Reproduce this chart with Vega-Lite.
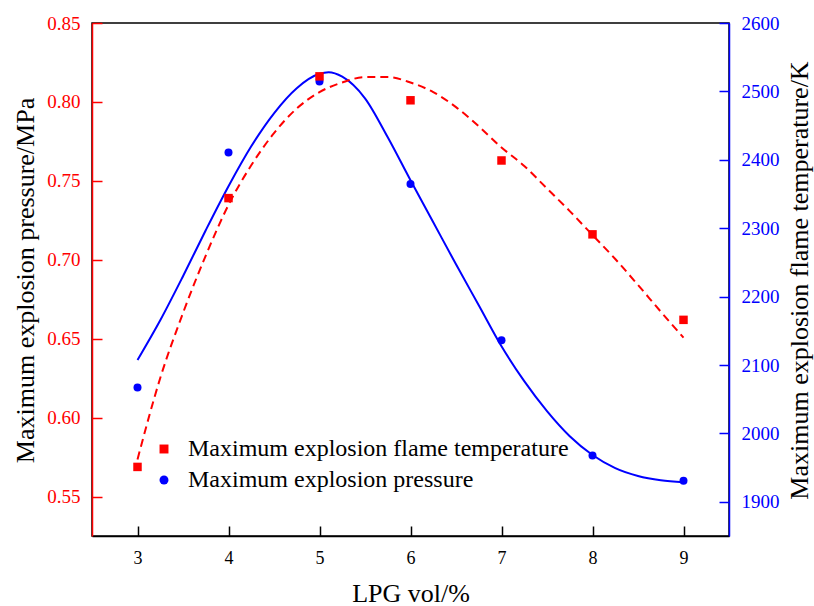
{
  "$schema": "https://vega.github.io/schema/vega-lite/v6.json",
  "width": 637,
  "height": 513,
  "autosize": {"type": "none"},
  "padding": {"left": 92, "top": 23, "right": 85, "bottom": 70},
  "background": "white",
  "config": {
    "font": "Liberation Serif",
    "view": {"stroke": "black", "strokeWidth": 1.5},
    "axis": {
      "grid": false,
      "labelFont": "Liberation Serif",
      "titleFont": "Liberation Serif",
      "labelFontSize": 19,
      "titleFontSize": 26,
      "titleFontWeight": "normal",
      "titleColor": "black",
      "tickSize": -10,
      "labelPadding": 22,
      "domainWidth": 1.5,
      "tickWidth": 1.5
    }
  },
  "datasets": {
    "pressure_pts": [
      {"lpg": 3, "pressure": 0.619, "series": "Maximum explosion pressure"},
      {"lpg": 4, "pressure": 0.768, "series": "Maximum explosion pressure"},
      {"lpg": 5, "pressure": 0.813, "series": "Maximum explosion pressure"},
      {"lpg": 6, "pressure": 0.748, "series": "Maximum explosion pressure"},
      {"lpg": 7, "pressure": 0.649, "series": "Maximum explosion pressure"},
      {"lpg": 8, "pressure": 0.576, "series": "Maximum explosion pressure"},
      {"lpg": 9, "pressure": 0.560, "series": "Maximum explosion pressure"}
    ],
    "temp_pts": [
      {"lpg": 3, "temperature": 1951, "series": "Maximum explosion flame temperature"},
      {"lpg": 4, "temperature": 2344, "series": "Maximum explosion flame temperature"},
      {"lpg": 5, "temperature": 2522, "series": "Maximum explosion flame temperature"},
      {"lpg": 6, "temperature": 2487, "series": "Maximum explosion flame temperature"},
      {"lpg": 7, "temperature": 2399, "series": "Maximum explosion flame temperature"},
      {"lpg": 8, "temperature": 2291, "series": "Maximum explosion flame temperature"},
      {"lpg": 9, "temperature": 2166, "series": "Maximum explosion flame temperature"}
    ],
    "pressure_fit": [
      {"lpg": 3.0, "pressure": 0.6365},
      {"lpg": 3.25, "pressure": 0.6617},
      {"lpg": 3.5, "pressure": 0.6896},
      {"lpg": 3.75, "pressure": 0.7187},
      {"lpg": 4.0, "pressure": 0.7466},
      {"lpg": 4.25, "pressure": 0.7719},
      {"lpg": 4.5, "pressure": 0.7928},
      {"lpg": 4.75, "pressure": 0.8087},
      {"lpg": 5.0, "pressure": 0.8178},
      {"lpg": 5.1, "pressure": 0.8188},
      {"lpg": 5.25, "pressure": 0.8160},
      {"lpg": 5.5, "pressure": 0.8023},
      {"lpg": 5.75, "pressure": 0.7776},
      {"lpg": 6.0, "pressure": 0.7504},
      {"lpg": 6.25, "pressure": 0.7238},
      {"lpg": 6.5, "pressure": 0.6971},
      {"lpg": 6.75, "pressure": 0.6712},
      {"lpg": 7.0, "pressure": 0.6452},
      {"lpg": 7.25, "pressure": 0.6231},
      {"lpg": 7.5, "pressure": 0.6041},
      {"lpg": 7.75, "pressure": 0.5882},
      {"lpg": 8.0, "pressure": 0.5763},
      {"lpg": 8.25, "pressure": 0.5680},
      {"lpg": 8.5, "pressure": 0.5630},
      {"lpg": 8.75, "pressure": 0.5603},
      {"lpg": 9.0, "pressure": 0.5591}
    ],
    "temp_fit": [
      {"lpg": 3.0, "temperature": 1962},
      {"lpg": 3.25, "temperature": 2081},
      {"lpg": 3.5, "temperature": 2176},
      {"lpg": 3.75, "temperature": 2260},
      {"lpg": 4.0, "temperature": 2334},
      {"lpg": 4.25, "temperature": 2392},
      {"lpg": 4.5, "temperature": 2439},
      {"lpg": 4.75, "temperature": 2475},
      {"lpg": 5.0, "temperature": 2499},
      {"lpg": 5.25, "temperature": 2513},
      {"lpg": 5.5, "temperature": 2521},
      {"lpg": 5.75, "temperature": 2521},
      {"lpg": 6.0, "temperature": 2513},
      {"lpg": 6.25, "temperature": 2499},
      {"lpg": 6.5, "temperature": 2477},
      {"lpg": 6.75, "temperature": 2449},
      {"lpg": 7.0, "temperature": 2418},
      {"lpg": 7.25, "temperature": 2391},
      {"lpg": 7.5, "temperature": 2358},
      {"lpg": 7.75, "temperature": 2325},
      {"lpg": 8.0, "temperature": 2290},
      {"lpg": 8.25, "temperature": 2255},
      {"lpg": 8.5, "temperature": 2217},
      {"lpg": 8.75, "temperature": 2178},
      {"lpg": 9.0, "temperature": 2140}
    ]
  },
  "encoding": {
    "x": {
      "field": "lpg",
      "type": "quantitative",
      "scale": {"domain": [2.5, 9.5], "nice": false, "zero": false},
      "axis": {
        "title": "LPG vol/%",
        "values": [3, 4, 5, 6, 7, 8, 9],
        "labelFont": "Liberation Serif",
        "labelFontSize": 18,
        "labelColor": "black",
        "domainColor": "black",
        "tickColor": "black",
        "labelPadding": 23,
        "titleY": 65,
        "titleBaseline": "alphabetic"
      }
    }
  },
  "layer": [
    {
      "encoding": {
        "y": {
          "field": "pressure",
          "type": "quantitative",
          "scale": {"domain": [0.525, 0.85], "nice": false, "zero": false},
          "axis": {
            "orient": "left",
            "title": "Maximum explosion pressure/MPa",
            "values": [0.55, 0.6, 0.65, 0.7, 0.75, 0.8, 0.85],
            "format": ".2f",
            "labelFont": "Liberation Serif",
            "labelFontSize": 19,
            "labelColor": "#ff0000",
            "domainColor": "red",
            "tickColor": "red",
            "titleAngle": -90,
            "titleX": -59,
            "titleY": 257,
            "titleAlign": "center",
            "titleBaseline": "alphabetic"
          }
        }
      },
      "layer": [
        {
          "data": {"name": "pressure_fit"},
          "mark": {"type": "line", "color": "#0000ff", "strokeWidth": 2, "interpolate": "monotone"}
        },
        {
          "data": {"name": "pressure_pts"},
          "mark": {"type": "point", "filled": true, "opacity": 1, "size": 64},
          "encoding": {
            "color": {
              "field": "series",
              "type": "nominal",
              "scale": {"domain": ["Maximum explosion flame temperature", "Maximum explosion pressure"], "range": ["#ff0000", "#0000ff"]},
              "legend": {"orient": "none", "legendX": 60, "legendY": 414, "title": null, "labelFontSize": 24, "labelFont": "Liberation Serif", "labelColor": "black", "labelLimit": 0, "symbolSize": 80, "labelOffset": 12, "rowPadding": 7, "padding": 0, "symbolOpacity": 1}
            },
            "shape": {
              "field": "series",
              "type": "nominal",
              "scale": {"domain": ["Maximum explosion flame temperature", "Maximum explosion pressure"], "range": ["square", "circle"]},
              "legend": {"orient": "none", "legendX": 60, "legendY": 414, "title": null, "labelFontSize": 24, "labelFont": "Liberation Serif", "labelColor": "black", "labelLimit": 0, "symbolSize": 80, "labelOffset": 12, "rowPadding": 7, "padding": 0, "symbolOpacity": 1}
            }
          }
        }
      ]
    },
    {
      "encoding": {
        "y": {
          "field": "temperature",
          "type": "quantitative",
          "scale": {"domain": [1850, 2600], "nice": false, "zero": false},
          "axis": {
            "orient": "right",
            "title": "Maximum explosion flame temperature/K",
            "values": [1900, 2000, 2100, 2200, 2300, 2400, 2500, 2600],
            "format": "d",
            "labelFont": "Liberation Serif",
            "labelFontSize": 19,
            "labelColor": "#0000ff",
            "domainColor": "blue",
            "tickColor": "blue",
            "titleAngle": -90,
            "titleX": 78,
            "titleY": 257,
            "titleAlign": "center",
            "titleBaseline": "alphabetic"
          }
        }
      },
      "layer": [
        {
          "data": {"name": "temp_fit"},
          "mark": {"type": "line", "color": "#ff0000", "strokeWidth": 2, "strokeDash": [8, 5], "interpolate": "monotone"}
        },
        {
          "data": {"name": "temp_pts"},
          "mark": {"type": "point", "filled": true, "opacity": 1, "size": 72},
          "encoding": {
            "color": {"field": "series", "type": "nominal"},
            "shape": {"field": "series", "type": "nominal"}
          }
        }
      ]
    }
  ],
  "resolve": {"scale": {"y": "independent"}}
}
